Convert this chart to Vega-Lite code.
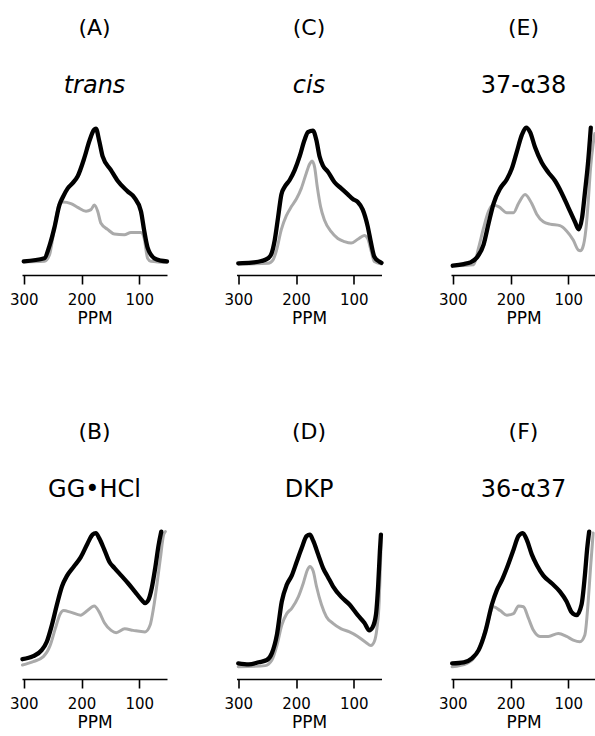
{
  "$schema": "https://vega.github.io/schema/vega-lite/v6.json",
  "padding": {"top": 17, "left": 9, "right": 0, "bottom": 0},
  "background": "white",
  "config": {
    "view": {"stroke": null},
    "title": {"font": "DejaVu Sans", "fontSize": 22, "fontWeight": "normal", "color": "black", "subtitleFont": "DejaVu Sans", "subtitleFontSize": 24, "subtitleColor": "black", "subtitlePadding": 34, "offset": 24, "anchor": "middle", "frame": "group"},
    "axisX": {"grid": false, "domainColor": "black", "domainWidth": 1.6, "tickColor": "black", "tickWidth": 1.6, "tickSize": 9, "labelFont": "DejaVu Sans", "labelFontSize": 15, "labelColor": "black", "labelPadding": 8, "labelFlush": false, "labelOverlap": false, "titleFont": "DejaVu Sans", "titleFontSize": 17, "titleFontWeight": "normal", "titleColor": "black", "titlePadding": 3.5},
    "line": {"interpolate": "monotone", "strokeCap": "round", "strokeJoin": "round"}
  },
  "datasets": {
    "A_g": [{"ppm":300,"v":0.086},{"ppm":264.3,"v":0.09},{"ppm":255.6,"v":0.13},{"ppm":249.9,"v":0.24},{"ppm":244.1,"v":0.375},{"ppm":238.3,"v":0.47},{"ppm":232.6,"v":0.48},{"ppm":218.2,"v":0.47},{"ppm":206.6,"v":0.445},{"ppm":192.2,"v":0.42},{"ppm":183.6,"v":0.43},{"ppm":177.8,"v":0.46},{"ppm":172,"v":0.42},{"ppm":166.3,"v":0.34},{"ppm":154.8,"v":0.3},{"ppm":143.2,"v":0.27},{"ppm":125.9,"v":0.265},{"ppm":114.4,"v":0.28},{"ppm":97.1,"v":0.28},{"ppm":91.4,"v":0.24},{"ppm":85.6,"v":0.11},{"ppm":79.8,"v":0.09},{"ppm":52,"v":0.083}],
    "A_b": [{"ppm":300,"v":0.09},{"ppm":264.3,"v":0.11},{"ppm":255.6,"v":0.19},{"ppm":247,"v":0.31},{"ppm":238.3,"v":0.46},{"ppm":232.6,"v":0.51},{"ppm":223.9,"v":0.57},{"ppm":215.3,"v":0.605},{"ppm":206.6,"v":0.65},{"ppm":195.1,"v":0.77},{"ppm":186.5,"v":0.88},{"ppm":178.5,"v":0.955},{"ppm":175,"v":0.963},{"ppm":169.2,"v":0.88},{"ppm":163.4,"v":0.78},{"ppm":149,"v":0.69},{"ppm":137.5,"v":0.62},{"ppm":120.2,"v":0.55},{"ppm":108.6,"v":0.51},{"ppm":97.1,"v":0.42},{"ppm":91.4,"v":0.29},{"ppm":85.6,"v":0.18},{"ppm":74.1,"v":0.11},{"ppm":62.5,"v":0.094},{"ppm":52,"v":0.09}],
    "C_g": [{"ppm":300,"v":0.072},{"ppm":248.3,"v":0.077},{"ppm":239.7,"v":0.1},{"ppm":233.9,"v":0.16},{"ppm":225.3,"v":0.3},{"ppm":216.7,"v":0.39},{"ppm":208,"v":0.45},{"ppm":199.4,"v":0.5},{"ppm":190.8,"v":0.57},{"ppm":182.2,"v":0.67},{"ppm":176.4,"v":0.73},{"ppm":172.4,"v":0.75},{"ppm":167.8,"v":0.71},{"ppm":163.2,"v":0.58},{"ppm":157.5,"v":0.45},{"ppm":150.6,"v":0.36},{"ppm":139.1,"v":0.285},{"ppm":127.6,"v":0.24},{"ppm":116.1,"v":0.22},{"ppm":104.6,"v":0.21},{"ppm":93.1,"v":0.235},{"ppm":81.6,"v":0.26},{"ppm":75.9,"v":0.24},{"ppm":70.1,"v":0.16},{"ppm":64.4,"v":0.088},{"ppm":52,"v":0.072}],
    "C_b": [{"ppm":300,"v":0.077},{"ppm":277,"v":0.081},{"ppm":259.8,"v":0.092},{"ppm":248.3,"v":0.11},{"ppm":242.5,"v":0.14},{"ppm":236.8,"v":0.23},{"ppm":231,"v":0.38},{"ppm":225.3,"v":0.53},{"ppm":219.5,"v":0.58},{"ppm":210.9,"v":0.625},{"ppm":202.3,"v":0.69},{"ppm":193.7,"v":0.78},{"ppm":185.1,"v":0.89},{"ppm":179.3,"v":0.94},{"ppm":170.7,"v":0.95},{"ppm":164.9,"v":0.89},{"ppm":159.2,"v":0.78},{"ppm":153.4,"v":0.72},{"ppm":144.8,"v":0.68},{"ppm":133.3,"v":0.61},{"ppm":121.8,"v":0.57},{"ppm":110.3,"v":0.53},{"ppm":101.7,"v":0.5},{"ppm":93.1,"v":0.48},{"ppm":84.5,"v":0.43},{"ppm":75.9,"v":0.32},{"ppm":70.1,"v":0.21},{"ppm":64.4,"v":0.12},{"ppm":55.7,"v":0.088},{"ppm":52,"v":0.08}],
    "E_g": [{"ppm":300,"v":0.061},{"ppm":263.8,"v":0.068},{"ppm":255.2,"v":0.18},{"ppm":246.6,"v":0.31},{"ppm":237.9,"v":0.42},{"ppm":230.5,"v":0.46},{"ppm":220.7,"v":0.45},{"ppm":206.3,"v":0.41},{"ppm":194.8,"v":0.41},{"ppm":186.2,"v":0.47},{"ppm":174.7,"v":0.53},{"ppm":163.2,"v":0.47},{"ppm":154.6,"v":0.4},{"ppm":143.1,"v":0.35},{"ppm":131.6,"v":0.335},{"ppm":114.4,"v":0.325},{"ppm":102.9,"v":0.29},{"ppm":91.4,"v":0.23},{"ppm":82.8,"v":0.165},{"ppm":79,"v":0.16},{"ppm":75,"v":0.18},{"ppm":69.5,"v":0.3},{"ppm":65.5,"v":0.48},{"ppm":61.5,"v":0.7},{"ppm":57,"v":0.86},{"ppm":54,"v":0.93}],
    "E_b": [{"ppm":300,"v":0.061},{"ppm":281,"v":0.072},{"ppm":269.5,"v":0.083},{"ppm":258,"v":0.116},{"ppm":246.6,"v":0.2},{"ppm":237.9,"v":0.34},{"ppm":229.3,"v":0.47},{"ppm":217.8,"v":0.57},{"ppm":206.3,"v":0.63},{"ppm":197.7,"v":0.7},{"ppm":189.1,"v":0.81},{"ppm":180.5,"v":0.92},{"ppm":173,"v":0.97},{"ppm":166.1,"v":0.94},{"ppm":157.5,"v":0.84},{"ppm":146,"v":0.74},{"ppm":134.5,"v":0.675},{"ppm":123,"v":0.62},{"ppm":111.5,"v":0.54},{"ppm":100,"v":0.445},{"ppm":88.5,"v":0.35},{"ppm":82,"v":0.3},{"ppm":76,"v":0.38},{"ppm":71,"v":0.55},{"ppm":66,"v":0.73},{"ppm":61,"v":0.97}],
    "B_g": [{"ppm":302.3,"v":0.092},{"ppm":283.6,"v":0.114},{"ppm":266,"v":0.147},{"ppm":254.3,"v":0.22},{"ppm":245.5,"v":0.33},{"ppm":236.7,"v":0.43},{"ppm":230.8,"v":0.45},{"ppm":219.1,"v":0.44},{"ppm":201.5,"v":0.42},{"ppm":189.7,"v":0.45},{"ppm":178,"v":0.48},{"ppm":169.2,"v":0.44},{"ppm":160.4,"v":0.37},{"ppm":148.7,"v":0.32},{"ppm":139.9,"v":0.305},{"ppm":125.2,"v":0.33},{"ppm":110.6,"v":0.32},{"ppm":90,"v":0.31},{"ppm":81.2,"v":0.355},{"ppm":75.4,"v":0.465},{"ppm":69.5,"v":0.62},{"ppm":63.6,"v":0.79},{"ppm":57.8,"v":0.95},{"ppm":54.8,"v":0.97}],
    "B_b": [{"ppm":302.3,"v":0.13},{"ppm":283.6,"v":0.15},{"ppm":268.9,"v":0.19},{"ppm":260.1,"v":0.245},{"ppm":251.3,"v":0.355},{"ppm":242.5,"v":0.49},{"ppm":233.7,"v":0.61},{"ppm":224.9,"v":0.68},{"ppm":213.2,"v":0.74},{"ppm":201.5,"v":0.8},{"ppm":189.7,"v":0.89},{"ppm":180.9,"v":0.95},{"ppm":175.1,"v":0.96},{"ppm":169.2,"v":0.925},{"ppm":160.4,"v":0.85},{"ppm":151.6,"v":0.77},{"ppm":142.8,"v":0.73},{"ppm":131.1,"v":0.68},{"ppm":119.4,"v":0.63},{"ppm":107.6,"v":0.575},{"ppm":95.9,"v":0.52},{"ppm":90,"v":0.5},{"ppm":84.2,"v":0.52},{"ppm":78.3,"v":0.6},{"ppm":72.4,"v":0.73},{"ppm":66.6,"v":0.88},{"ppm":61.9,"v":0.97}],
    "D_g": [{"ppm":300,"v":0.08},{"ppm":253.1,"v":0.088},{"ppm":241.7,"v":0.125},{"ppm":233.1,"v":0.22},{"ppm":224.6,"v":0.355},{"ppm":216,"v":0.43},{"ppm":207.4,"v":0.465},{"ppm":196,"v":0.54},{"ppm":187.4,"v":0.63},{"ppm":180,"v":0.72},{"ppm":176,"v":0.74},{"ppm":170.3,"v":0.71},{"ppm":164.6,"v":0.61},{"ppm":156,"v":0.49},{"ppm":147.4,"v":0.41},{"ppm":136,"v":0.366},{"ppm":121.7,"v":0.33},{"ppm":107.4,"v":0.31},{"ppm":93.1,"v":0.28},{"ppm":78.9,"v":0.24},{"ppm":70.3,"v":0.22},{"ppm":64.6,"v":0.245},{"ppm":60,"v":0.33},{"ppm":56,"v":0.51},{"ppm":54,"v":0.73},{"ppm":52.3,"v":0.93}],
    "D_b": [{"ppm":300,"v":0.103},{"ppm":281.7,"v":0.096},{"ppm":264.6,"v":0.11},{"ppm":250.3,"v":0.125},{"ppm":241.7,"v":0.17},{"ppm":233.1,"v":0.29},{"ppm":224.6,"v":0.51},{"ppm":216,"v":0.62},{"ppm":207.4,"v":0.68},{"ppm":198.9,"v":0.77},{"ppm":190.3,"v":0.86},{"ppm":181.7,"v":0.94},{"ppm":176,"v":0.95},{"ppm":170.3,"v":0.91},{"ppm":161.7,"v":0.82},{"ppm":153.1,"v":0.73},{"ppm":144.6,"v":0.67},{"ppm":136,"v":0.61},{"ppm":121.7,"v":0.54},{"ppm":107.4,"v":0.49},{"ppm":93.1,"v":0.42},{"ppm":81.7,"v":0.37},{"ppm":73.1,"v":0.32},{"ppm":67.4,"v":0.34},{"ppm":61.7,"v":0.42},{"ppm":57.7,"v":0.62},{"ppm":54.8,"v":0.84},{"ppm":53,"v":0.95}],
    "F_g": [{"ppm":301,"v":0.08},{"ppm":275.3,"v":0.103},{"ppm":263.8,"v":0.136},{"ppm":252.3,"v":0.22},{"ppm":240.8,"v":0.355},{"ppm":229.3,"v":0.475},{"ppm":217.8,"v":0.45},{"ppm":206.3,"v":0.42},{"ppm":194.8,"v":0.43},{"ppm":186.2,"v":0.48},{"ppm":177.6,"v":0.475},{"ppm":169,"v":0.4},{"ppm":160.3,"v":0.32},{"ppm":148.9,"v":0.28},{"ppm":134.5,"v":0.28},{"ppm":117.2,"v":0.3},{"ppm":102.9,"v":0.28},{"ppm":91.4,"v":0.256},{"ppm":79.9,"v":0.245},{"ppm":71.3,"v":0.29},{"ppm":65.5,"v":0.51},{"ppm":61.5,"v":0.73},{"ppm":56.9,"v":0.96}],
    "F_b": [{"ppm":301,"v":0.103},{"ppm":281,"v":0.11},{"ppm":266.7,"v":0.136},{"ppm":255.2,"v":0.19},{"ppm":243.7,"v":0.31},{"ppm":232.2,"v":0.49},{"ppm":223.6,"v":0.585},{"ppm":214.9,"v":0.65},{"ppm":206.3,"v":0.73},{"ppm":194.8,"v":0.85},{"ppm":186.2,"v":0.94},{"ppm":178.7,"v":0.96},{"ppm":171.8,"v":0.915},{"ppm":163.2,"v":0.82},{"ppm":154.6,"v":0.75},{"ppm":143.1,"v":0.68},{"ppm":128.7,"v":0.63},{"ppm":114.4,"v":0.575},{"ppm":102.9,"v":0.51},{"ppm":94.3,"v":0.44},{"ppm":85.6,"v":0.42},{"ppm":77,"v":0.49},{"ppm":71.3,"v":0.68},{"ppm":67.2,"v":0.86},{"ppm":63.8,"v":0.97}]
  },
  "columns": 3,
  "spacing": {"row": 252, "column": 69.5},
  "bounds": "flush",
  "concat": [
    {"width": 145, "height": 152, "title": {"text": "(A)", "subtitle": "trans", "subtitleFontStyle": "italic"},
     "encoding": {"x": {"field": "ppm", "type": "quantitative", "scale": {"domain": [303, 52], "nice": false, "zero": false}, "title": "PPM", "axis": {"values": [300, 200, 100]}}, "y": {"field": "v", "type": "quantitative", "scale": {"domain": [0, 1]}, "axis": null}},
     "layer": [
       {"data": {"name": "A_g"}, "mark": {"type": "line", "color": "#aaaaaa", "strokeWidth": 3}},
       {"data": {"name": "A_b"}, "mark": {"type": "line", "color": "#000000", "strokeWidth": 4.3}}
     ]},
    {"width": 145, "height": 152, "title": {"text": "(C)", "subtitle": "cis", "subtitleFontStyle": "italic"},
     "encoding": {"x": {"field": "ppm", "type": "quantitative", "scale": {"domain": [303, 52], "nice": false, "zero": false}, "title": "PPM", "axis": {"values": [300, 200, 100]}}, "y": {"field": "v", "type": "quantitative", "scale": {"domain": [0, 1]}, "axis": null}},
     "layer": [
       {"data": {"name": "C_g"}, "mark": {"type": "line", "color": "#aaaaaa", "strokeWidth": 3}},
       {"data": {"name": "C_b"}, "mark": {"type": "line", "color": "#000000", "strokeWidth": 4.3}}
     ]},
    {"width": 145, "height": 152, "title": {"text": "(E)", "subtitle": "37-α38", "subtitleFontStyle": "normal"},
     "encoding": {"x": {"field": "ppm", "type": "quantitative", "scale": {"domain": [303, 52], "nice": false, "zero": false}, "title": "PPM", "axis": {"values": [300, 200, 100]}}, "y": {"field": "v", "type": "quantitative", "scale": {"domain": [0, 1]}, "axis": null}},
     "layer": [
       {"data": {"name": "E_g"}, "mark": {"type": "line", "color": "#aaaaaa", "strokeWidth": 3}},
       {"data": {"name": "E_b"}, "mark": {"type": "line", "color": "#000000", "strokeWidth": 4.3}}
     ]},
    {"width": 145, "height": 152, "title": {"text": "(B)", "subtitle": "GG•HCl", "subtitleFontStyle": "normal"},
     "encoding": {"x": {"field": "ppm", "type": "quantitative", "scale": {"domain": [303, 52], "nice": false, "zero": false}, "title": "PPM", "axis": {"values": [300, 200, 100]}}, "y": {"field": "v", "type": "quantitative", "scale": {"domain": [0, 1]}, "axis": null}},
     "layer": [
       {"data": {"name": "B_g"}, "mark": {"type": "line", "color": "#aaaaaa", "strokeWidth": 3}},
       {"data": {"name": "B_b"}, "mark": {"type": "line", "color": "#000000", "strokeWidth": 4.3}}
     ]},
    {"width": 145, "height": 152, "title": {"text": "(D)", "subtitle": "DKP", "subtitleFontStyle": "normal"},
     "encoding": {"x": {"field": "ppm", "type": "quantitative", "scale": {"domain": [303, 52], "nice": false, "zero": false}, "title": "PPM", "axis": {"values": [300, 200, 100]}}, "y": {"field": "v", "type": "quantitative", "scale": {"domain": [0, 1]}, "axis": null}},
     "layer": [
       {"data": {"name": "D_g"}, "mark": {"type": "line", "color": "#aaaaaa", "strokeWidth": 3}},
       {"data": {"name": "D_b"}, "mark": {"type": "line", "color": "#000000", "strokeWidth": 4.3}}
     ]},
    {"width": 145, "height": 152, "title": {"text": "(F)", "subtitle": "36-α37", "subtitleFontStyle": "normal"},
     "encoding": {"x": {"field": "ppm", "type": "quantitative", "scale": {"domain": [303, 52], "nice": false, "zero": false}, "title": "PPM", "axis": {"values": [300, 200, 100]}}, "y": {"field": "v", "type": "quantitative", "scale": {"domain": [0, 1]}, "axis": null}},
     "layer": [
       {"data": {"name": "F_g"}, "mark": {"type": "line", "color": "#aaaaaa", "strokeWidth": 3}},
       {"data": {"name": "F_b"}, "mark": {"type": "line", "color": "#000000", "strokeWidth": 4.3}}
     ]}
  ]
}
